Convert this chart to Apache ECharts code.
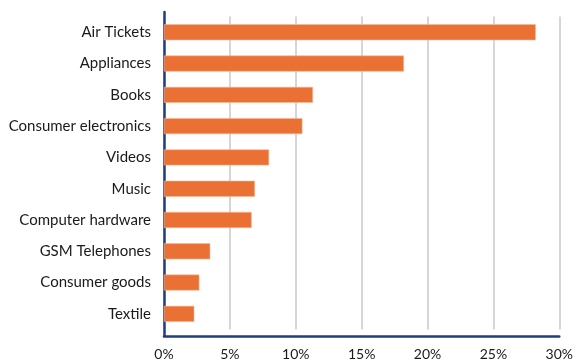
<!DOCTYPE html>
<html><head><meta charset="utf-8">
<script src="https://cdn.jsdelivr.net/npm/echarts@6/dist/echarts.min.js"></script>
<style>html,body{margin:0;padding:0;background:#fff}#c{width:576px;height:363px}</style>
</head><body><div id="c"></div>
<script>
const categories = ["Air Tickets","Appliances","Books","Consumer electronics","Videos","Music","Computer hardware","GSM Telephones","Consumer goods","Textile"];
const values = [28.2, 18.2, 11.3, 10.5, 7.97, 6.9, 6.65, 3.51, 2.68, 2.3];
const xTicks = [0,5,10,15,20,25,30];

const chart = echarts.init(document.getElementById('c'), null, {renderer:'canvas'});
const font = 'Lato';
chart.setOption({
  animation:false,
  grid:[
    {left:164, right:16.5, top:16.6, bottom:33.5},
    {left:164, right:16.5, top:12, bottom:27}
  ],
  xAxis:[
    {gridIndex:0, type:'value', min:0, max:30, interval:5,
     axisLine:{show:false}, axisTick:{show:false}, axisLabel:{show:false},
     splitLine:{show:true, lineStyle:{color:'#c8c8c8', width:1.5}}},
    {gridIndex:1, type:'value', min:0, max:30, interval:5,
     axisLine:{show:true, lineStyle:{color:'#1f3f7a', width:2.5}}, axisTick:{show:false},
     splitLine:{show:false},
     axisLabel:{show:true, margin:11, fontFamily:font, fontSize:14, color:'#1a1a1a',
       formatter:v=>v+'%'}}
  ],
  yAxis:[
    {gridIndex:0, type:'category', data:categories, inverse:true,
     axisLine:{show:false}, axisTick:{show:false},
     axisLabel:{margin:13, fontFamily:font, fontSize:15, color:'#1a1a1a'}},
    {gridIndex:1, type:'category', data:categories, inverse:true,
     axisLine:{show:true, lineStyle:{color:'#1f3f7a', width:2.5}}, axisTick:{show:false},
     axisLabel:{show:false}}
  ],
  series:[{
    type:'bar', xAxisIndex:0, yAxisIndex:0, data:values, barWidth:16,
    itemStyle:{color:'#eb7034', borderColor:'#f5b896', borderWidth:0.6}
  }]
});
</script></body></html>
